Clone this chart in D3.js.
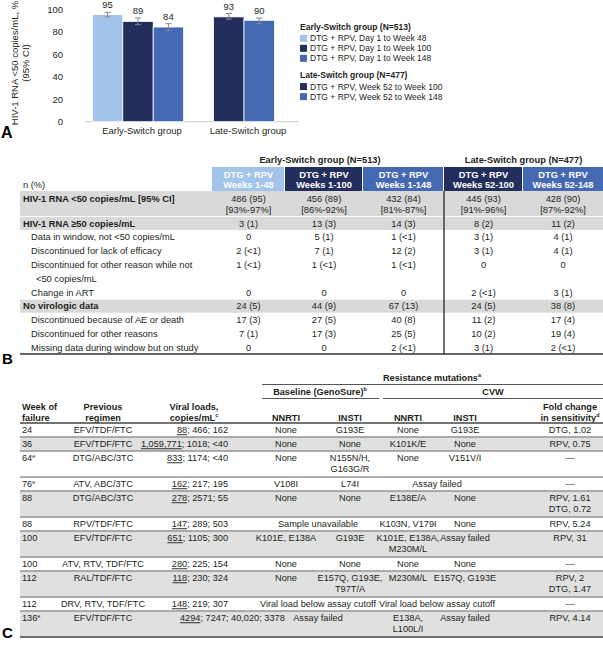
<!DOCTYPE html>
<html><head><meta charset="utf-8">
<script src="https://cdn.jsdelivr.net/npm/d3@7"></script>
<style>
html,body{margin:0;padding:0;background:#fff;}
svg{display:block;font-family:"Liberation Sans",Arial,Helvetica,sans-serif;}
</style></head><body>
<svg id="fig" width="603" height="647"></svg>
<script>
// ===== Panel A data =====
const barCategories = ["Early-Switch group", "Late-Switch group"];
const barCategory = ["Early-Switch group","Early-Switch group","Early-Switch group","Late-Switch group","Late-Switch group"];
const barSeries = ["DTG + RPV, Day 1 to Week 48","DTG + RPV, Day 1 to Week 100","DTG + RPV, Day 1 to Week 148","DTG + RPV, Week 52 to Week 100","DTG + RPV, Week 52 to Week 148"];
const barValues = [95, 89, 84, 93, 90];
const ciLow  = [93, 86, 81, 91, 87];
const ciHigh = [97, 92, 87, 96, 92];
const yTickValues = [0, 20, 40, 60, 80, 100];
const yTitle = ["HIV-1 RNA <50 copies/mL, %", "(95% CI)"];
const legendTitles = ["Early-Switch group (N=513)", "Late-Switch group (N=477)"];

// ===== Panel B data =====
const tbGroupTitles = ["Early-Switch group (N=513)", "Late-Switch group (N=477)"];
const tbColHeads = [["DTG + RPV","Weeks 1-48"],["DTG + RPV","Weeks 1-100"],["DTG + RPV","Weeks 1-148"],["DTG + RPV","Weeks 52-100"],["DTG + RPV","Weeks 52-148"]];
const tbRowLabels = ["HIV-1 RNA <50 copies/mL [95% CI]","HIV-1 RNA \u226550 copies/mL","Data in window, not <50 copies/mL","Discontinued for lack of efficacy","Discontinued for other reason while not\n<50 copies/mL","Change in ART","No virologic data","Discontinued because of AE or death","Discontinued for other reasons","Missing data during window but on study"];
const tbRowBold = [true, true, false, false, false, false, true, false, false, false];
const tbValues = [
  ["486 (95)\n[93%-97%]","456 (89)\n[86%-92%]","432 (84)\n[81%-87%]","445 (93)\n[91%-96%]","428 (90)\n[87%-92%]"],
  ["3 (1)","13 (3)","14 (3)","8 (2)","11 (2)"],
  ["0","5 (1)","1 (<1)","3 (1)","4 (1)"],
  ["2 (<1)","7 (1)","12 (2)","3 (1)","4 (1)"],
  ["1 (<1)","1 (<1)","1 (<1)","0","0"],
  ["0","0","0","2 (<1)","3 (1)"],
  ["24 (5)","44 (9)","67 (13)","24 (5)","38 (8)"],
  ["17 (3)","27 (5)","40 (8)","11 (2)","17 (4)"],
  ["7 (1)","17 (3)","25 (5)","10 (2)","19 (4)"],
  ["0","0","2 (<1)","3 (1)","2 (<1)"]
];

// ===== Panel C data =====
const tcHeadTop = "Resistance mutations^a";
const tcHeadGroups = ["Baseline (GenoSure)^b", "CVW"];
const tcHeadCols = ["Week of\nfailure","Previous\nregimen","Viral loads,\ncopies/mL^c","NNRTI","INSTI","NNRTI","INSTI","Fold change\nin sensitivity^d"];
const tcWeek = ["24","36","64^e","76^e","88","88","100","100","112","112","136^e"];
const tcRegimen = ["EFV/TDF/FTC","EFV/TDF/FTC","DTG/ABC/3TC","ATV, ABC/3TC","DTG/ABC/3TC","RPV/TDF/FTC","EFV/TDF/FTC","ATV, RTV, TDF/FTC","RAL/TDF/FTC","DRV, RTV, TDF/FTC","EFV/TDF/FTC"];
const tcLoadFirst = ["88","1,059,771","833","162","278","147","651","280","118","148","4294"];
const tcLoadRest = ["; 466; 162","; 1018; <40","; 1174; <40","; 217; 195","; 2571; 55","; 289; 503","; 1105; 300","; 225; 154","; 230; 324","; 219; 307","; 7247; 40,020; 3378"];
const tcBaseline = [["None","G193E"],["None","None"],["None","N155N/H,\nG163G/R"],["V108I","L74I"],["None","None"],"Sample unavailable",["K101E, E138A","G193E"],["None","None"],["None","E157Q, G193E,\nT97T/A"],"Viral load below assay cutoff","Assay failed"];
const tcCVW = [["None","G193E"],["K101K/E","None"],["None","V151V/I"],"Assay failed",["E138E/A","None"],["K103N, V179I","None"],["K101E, E138A,\nM230M/L","Assay failed"],["None","None"],["M230M/L","E157Q, G193E"],"Viral load below assay cutoff",["E138A,\nL100L/I","Assay failed"]];
const tcFold = ["DTG, 1.02","RPV, 0.75","\u2014","\u2014","RPV, 1.61\nDTG, 0.72","RPV, 5.24","RPV, 31","\u2014","RPV, 2\nDTG, 1.47","\u2014","RPV, 4.14"];
const tcShaded = [false,true,false,false,true,false,true,false,true,false,true];

// ===== styles =====
const TXT = "#231f20";
const C_LIGHT = "#a3c4ea", C_NAVY = "#232e5c", C_MID = "#4568b3";
const seriesColor = [C_LIGHT, C_NAVY, C_MID, C_NAVY, C_MID];
const svg = d3.select("#fig");

function addText(g, x, yy, str, o = {}) {
  const size = o.size || 9.2;
  const lineH = o.lineH || 11;
  const lines = String(str).split("\n");
  lines.forEach((ln, i) => {
    const t = g.append("text").attr("x", x).attr("y", yy + i * lineH)
      .attr("text-anchor", o.anchor || "start")
      .attr("font-size", size)
      .attr("font-weight", o.bold ? "bold" : null)
      .attr("fill", o.fill || TXT);
    const parts = ln.split("^");
    t.append("tspan").text(parts[0]);
    if (parts[1]) t.append("tspan").attr("font-size", size * 0.6).attr("dy", -3.6).text(parts[1]);
  });
}

// ===== Panel A =====
const gA = svg.append("g");
const yScale = d3.scaleLinear().domain([0, 100]).range([121.7, 9]);
const xGroup = d3.scaleBand().domain(barCategories).range([85, 297]);
const barW = 30.4;
const bars = barValues.map((v, i) => ({ v, lo: ciLow[i], hi: ciHigh[i], cat: barCategory[i], name: barSeries[i], i }));
bars.forEach(b => { const m = bars.filter(o => o.cat === b.cat); b.j = m.indexOf(b); b.n = m.length; });
function innerScale(b) {
  const c = xGroup(b.cat) + xGroup.bandwidth() / 2;
  return d3.scaleBand().domain(d3.range(b.n)).range([c - b.n * barW / 2, c + b.n * barW / 2]);
}
bars.forEach(b => { const s = innerScale(b); b.x0 = s(b.j); b.w = s.bandwidth(); b.cx = b.x0 + b.w / 2; });

gA.append("line").attr("x1", 85).attr("x2", 298).attr("y1", yScale(0)).attr("y2", yScale(0)).attr("stroke", "#c8c8c8").attr("stroke-width", 1);

gA.selectAll("rect.bar").data(bars).join("rect").attr("class", "bar")
  .attr("x", d => d.x0).attr("width", d => d.w)
  .attr("y", d => yScale(d.v)).attr("height", d => yScale(0) - yScale(d.v))
  .attr("fill", d => seriesColor[d.i]).attr("stroke", "#fff").attr("stroke-width", 0.8);

const eb = gA.selectAll("g.eb").data(bars).join("g").attr("class", "eb").attr("stroke", "#8a8a8a").attr("stroke-width", 1);
eb.append("line").attr("x1", d => d.cx).attr("x2", d => d.cx).attr("y1", d => yScale(d.lo)).attr("y2", d => yScale(d.hi));
eb.append("line").attr("x1", d => d.cx - 3).attr("x2", d => d.cx + 3).attr("y1", d => yScale(d.lo)).attr("y2", d => yScale(d.lo));
eb.append("line").attr("x1", d => d.cx - 3).attr("x2", d => d.cx + 3).attr("y1", d => yScale(d.hi)).attr("y2", d => yScale(d.hi));

gA.selectAll("text.val").data(bars).join("text").attr("class", "val")
  .attr("x", d => d.cx).attr("y", d => yScale(d.hi) - 4)
  .attr("text-anchor", "middle").attr("font-size", 9.5).attr("fill", TXT).text(d => d.v);

const yAx = gA.append("g").attr("transform", "translate(66,0)")
  .call(d3.axisLeft(yScale).tickValues(yTickValues).tickSize(0).tickPadding(3));
yAx.select(".domain").remove();
yAx.selectAll("text").attr("font-size", 9.5).attr("fill", TXT).attr("font-family", null);

const xAx = gA.append("g").attr("transform", `translate(0,${yScale(0)})`)
  .call(d3.axisBottom(xGroup).tickSize(0).tickPadding(6));
xAx.select(".domain").remove();
xAx.selectAll("text").attr("font-size", 9.5).attr("fill", TXT).attr("font-family", null).attr("dx", 4);

yTitle.forEach((t, i) => {
  gA.append("text").attr("transform", `translate(${18 + i * 11},63) rotate(-90)`)
    .attr("text-anchor", "middle").attr("font-size", 9.5).attr("fill", TXT).text(t);
});
gA.append("text").attr("x", 1).attr("y", 137.5).attr("font-size", 16).attr("font-weight", "bold").attr("fill", "#000").text("A");

// legend
const legG = svg.append("g");
const legLayout = [{ title: 0, items: [0, 1, 2], y0: 26.7 }, { title: 1, items: [3, 4], y0: 75 }];
legLayout.forEach(L => {
  legG.append("text").attr("x", 300).attr("y", L.y0 + 3).attr("font-size", 8.5).attr("font-weight", "bold").attr("fill", TXT).text(legendTitles[L.title]);
  L.items.forEach((k, j) => {
    const yy = L.y0 + 11.6 + j * 10;
    legG.append("rect").attr("x", 300).attr("y", yy - 3.5).attr("width", 7).attr("height", 7).attr("fill", seriesColor[k]);
    legG.append("text").attr("x", 310).attr("y", yy + 3).attr("font-size", 8.5).attr("fill", TXT).text(barSeries[k]);
  });
});

// ===== Panel B =====
const gB = svg.append("g");
const tbEdges = [212, 285, 363, 444, 523, 603];
const tbColors = [C_LIGHT, C_NAVY, C_MID, C_NAVY, C_MID];
const TB = 9.3;
addText(gB, (tbEdges[0] + tbEdges[3]) / 2 - 8, 163.3, tbGroupTitles[0], { anchor: "middle", bold: true, size: TB });
addText(gB, (tbEdges[3] + tbEdges[5]) / 2, 163.3, tbGroupTitles[1], { anchor: "middle", bold: true, size: TB });
tbColHeads.forEach((h, i) => {
  gB.append("rect").attr("x", tbEdges[i]).attr("y", 167).attr("width", tbEdges[i + 1] - tbEdges[i] - (i < 4 ? 1 : 0)).attr("height", 24).attr("fill", tbColors[i]);
  addText(gB, (tbEdges[i] + tbEdges[i + 1]) / 2, 177.6, h.join("\n"), { anchor: "middle", bold: true, fill: "#fff", size: TB, lineH: 10.4 });
});
addText(gB, 23, 188, "n (%)", { size: TB });

let rowCy = 199;
const rowPos = [];
tbRowLabels.forEach((lab, r) => {
  const nLines = Math.max(lab.split("\n").length, ...tbValues[r].map(v => v.split("\n").length));
  const gap = r === 0 ? 10.5 : 13.8;
  rowPos.push({ cy: rowCy, nLines, gap });
  rowCy += (nLines - 1) * gap + 13.8;
});
rowPos.forEach((p, r) => {
  if (tbRowBold[r]) {
    const t0 = r === 0 ? 191 : p.cy - 6.4;
    const t1 = r === 0 ? 216 : p.cy + 6.6 + (p.nLines - 1) * p.gap;
    gB.append("rect").attr("x", 20).attr("y", t0).attr("width", 583).attr("height", t1 - t0).attr("fill", "#d9d9d9");
  }
});
rowPos.forEach((p, r) => {
  const lines = tbRowLabels[r].split("\n");
  lines.forEach((ln, i) => {
    addText(gB, (tbRowBold[r] ? 23 : 31) + (i > 0 ? 5 : 0), p.cy + 3.3 + i * p.gap, ln, { bold: tbRowBold[r], size: TB });
  });
  tbValues[r].forEach((v, c) => {
    addText(gB, (tbEdges[c] + tbEdges[c + 1]) / 2, p.cy + 3.3, v, { anchor: "middle", size: TB, lineH: p.gap });
  });
});
gB.append("line").attr("x1", 444).attr("x2", 444).attr("y1", 191).attr("y2", 354).attr("stroke", "#333").attr("stroke-width", 1.4);
gB.append("line").attr("x1", 20).attr("x2", 603).attr("y1", 354).attr("y2", 354).attr("stroke", "#333").attr("stroke-width", 1.4);
svg.append("text").attr("x", 2).attr("y", 363.5).attr("font-size", 15).attr("font-weight", "bold").attr("fill", "#000").text("B");

// ===== Panel C =====
const gC = svg.append("g");
const TC = 9.2;
const colX = { week: 22, prev: 103, loadR: 228, loadL: 180, bNN: 286, bIN: 350, cNN: 408, cIN: 465, fold: 570, bMerge: 318, cMerge: 437 };
addText(gC, 432, 381, tcHeadTop, { anchor: "middle", bold: true, size: TC });
gC.append("line").attr("x1", 262).attr("x2", 603).attr("y1", 384.5).attr("y2", 384.5).attr("stroke", "#555").attr("stroke-width", 1);
addText(gC, 320, 395, tcHeadGroups[0], { anchor: "middle", bold: true, size: TC });
addText(gC, 493, 395, tcHeadGroups[1], { anchor: "middle", bold: true, size: TC });
gC.append("line").attr("x1", 262).attr("x2", 379).attr("y1", 398.5).attr("y2", 398.5).attr("stroke", "#555").attr("stroke-width", 1);
gC.append("line").attr("x1", 383).attr("x2", 603).attr("y1", 398.5).attr("y2", 398.5).attr("stroke", "#555").attr("stroke-width", 1);
const headX = [[colX.week, "start"], [colX.prev, "middle"], [194, "middle"], [colX.bNN, "middle"], [colX.bIN, "middle"], [colX.cNN, "middle"], [colX.cIN, "middle"], [colX.fold, "middle"]];
tcHeadCols.forEach((h, i) => {
  const nl = h.split("\n").length;
  addText(gC, headX[i][0], nl === 2 ? 410 : 420.5, h, { anchor: headX[i][1], bold: true, size: TC, lineH: 10.5 });
});

const nLinesOf = s => String(s).split("\n").length;
let rowTop = 423;
const rowsC = tcWeek.map((w, r) => {
  const cells = [tcRegimen[r], tcFold[r]];
  [tcBaseline[r], tcCVW[r]].forEach(c => { if (Array.isArray(c)) cells.push(...c); else cells.push(c); });
  const n = Math.max(...cells.map(nLinesOf));
  const h = 2 + 12 * n;
  const o = { r, top: rowTop, h };
  rowTop += h;
  return o;
});
rowsC.forEach(o => {
  if (tcShaded[o.r]) gC.append("rect").attr("x", 20).attr("y", o.top).attr("width", 583).attr("height", o.h).attr("fill", "#e0e0e0");
});
rowsC.forEach((o, k) => {
  if (k > 0) gC.append("line").attr("x1", 20).attr("x2", 603).attr("y1", o.top).attr("y2", o.top).attr("stroke", "#939393").attr("stroke-width", 1.5);
});
gC.append("line").attr("x1", 20).attr("x2", 603).attr("y1", 423).attr("y2", 423).attr("stroke", "#444").attr("stroke-width", 1.4);
gC.append("line").attr("x1", 20).attr("x2", 603).attr("y1", rowTop).attr("y2", rowTop).attr("stroke", "#444").attr("stroke-width", 1.4);

rowsC.forEach(o => {
  const r = o.r, by = o.top + 10.3;
  addText(gC, colX.week, by, tcWeek[r], { size: TC });
  addText(gC, colX.prev, by, tcRegimen[r], { anchor: "middle", size: TC });
  const t = gC.append("text").attr("x", colX.loadR).attr("y", by).attr("text-anchor", "end").attr("font-size", TC).attr("fill", TXT);
  t.append("tspan").attr("text-decoration", "underline").text(tcLoadFirst[r]);
  t.append("tspan").text(tcLoadRest[r]);
  const wTxt = t.node().getComputedTextLength();
  if (wTxt > 90) t.attr("x", colX.loadL).attr("text-anchor", "start");
  const b = tcBaseline[r];
  if (Array.isArray(b)) { addText(gC, colX.bNN, by, b[0], { anchor: "middle", size: TC }); addText(gC, colX.bIN, by, b[1], { anchor: "middle", size: TC }); }
  else addText(gC, colX.bMerge, by, b, { anchor: "middle", size: TC });
  const c = tcCVW[r];
  if (Array.isArray(c)) { addText(gC, colX.cNN, by, c[0], { anchor: "middle", size: TC }); addText(gC, colX.cIN, by, c[1], { anchor: "middle", size: TC }); }
  else addText(gC, colX.cMerge, by, c, { anchor: "middle", size: TC });
  addText(gC, colX.fold, by, tcFold[r], { anchor: "middle", size: TC });
});
svg.append("text").attr("x", 2).attr("y", 638).attr("font-size", 15).attr("font-weight", "bold").attr("fill", "#000").text("C");
</script>
</body></html>
